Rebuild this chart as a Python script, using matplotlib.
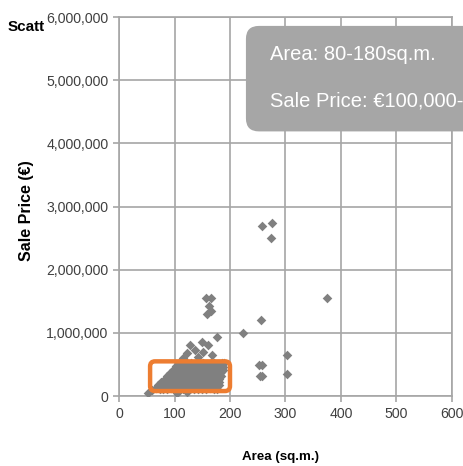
import matplotlib
matplotlib.use('Agg')
from matplotlib import pyplot as plt
from matplotlib.patches import FancyBboxPatch
from matplotlib.ticker import FuncFormatter

plt.rcParams['font.family'] = ['Liberation Sans', 'DejaVu Sans']

# main group of houses (area sq.m., price in thousands of euro)
area_main = [66, 73, 80, 87, 94, 101, 108, 115, 122, 129, 136, 143, 150, 157, 164, 171, 177,
             71, 78, 85, 92, 99, 106, 113, 120, 127, 134, 141, 148, 155, 162, 169, 176, 180,
             76, 83, 90, 97, 104, 111, 118, 125, 132, 139, 146, 153, 160, 167, 174, 181,
             82, 89, 96, 103, 110, 117, 124, 131, 138, 145, 152, 159, 166, 173, 180,
             87, 94, 101, 108, 115, 122, 129, 136, 143, 150, 157, 164, 171, 178, 184,
             92, 99, 106, 113, 120, 127, 134, 141, 148, 155, 162, 169, 176, 183,
             98, 105, 112, 119, 126, 133, 140, 147, 154, 161, 168, 175, 182, 187,
             103, 110, 117, 124, 131, 138, 145, 152, 159, 166, 173, 180, 188,
             109, 116, 123, 130, 137, 144, 151, 158, 165, 172, 179, 186, 190]
price_main = [125, 115, 120, 110, 125, 115, 110, 120, 115, 125, 110, 120, 115, 110, 125, 115, 120,
              170, 175, 165, 170, 180, 165, 175, 170, 165, 180, 170, 175, 165, 170, 180, 175, 170,
              220, 215, 225, 220, 210, 225, 220, 215, 230, 220, 215, 225, 220, 210, 225, 220,
              270, 275, 265, 270, 280, 265, 270, 275, 265, 270, 280, 270, 265, 275, 270,
              320, 315, 325, 320, 310, 325, 320, 315, 330, 320, 315, 325, 320, 310, 320,
              370, 375, 365, 370, 380, 365, 370, 375, 365, 370, 380, 370, 365, 375,
              420, 415, 425, 420, 410, 425, 420, 415, 430, 420, 415, 425, 420, 410,
              470, 475, 465, 470, 480, 465, 470, 475, 465, 470, 480, 470, 460,
              520, 515, 525, 520, 510, 525, 520, 515, 530, 520, 515, 525, 520]

# the rest of the points
area_other = [122, 128, 137, 149, 161, 176, 167, 152, 115, 143,
              157, 165, 162, 159, 165, 224, 256, 374, 257, 275, 274,
              253, 257, 254, 258, 302, 302, 52, 104, 123, 60]
price_other = [680, 810, 730, 860, 810, 940, 650, 700, 600, 620,
               1550, 1550, 1420, 1300, 1350, 1000, 1200, 1560, 2690, 2740, 2500,
               500, 500, 320, 320, 650, 350, 50, 50, 60, 90]

areas = area_main + area_other
prices = [p * 1000 for p in price_main + price_other]

fig = plt.figure(figsize=(4.64, 4.66), dpi=100)
ax = fig.add_axes([0.2565, 0.150, 0.7175, 0.8135])

grey = '#a6a6a6'
ax.scatter(areas, prices, marker='D', s=24, color='#808080', linewidths=0, zorder=3)

ax.set_xlim(0, 600)
ax.set_ylim(0, 6000000)
ax.set_xticks(range(0, 601, 100))
ax.set_yticks(range(0, 6000001, 1000000))
ax.yaxis.set_major_formatter(FuncFormatter(lambda v, p: '{:,.0f}'.format(v)))
ax.grid(True, color=grey, linewidth=1.2)
ax.set_axisbelow(True)
for s in ax.spines.values():
    s.set_color(grey)
    s.set_linewidth(1.2)
ax.tick_params(colors=grey, length=4, width=1.2, labelcolor='#404040', labelsize=10.2)

ax.set_xlabel('Area (sq.m.)', fontsize=9.6, fontweight='bold')
ax.xaxis.set_label_coords(0.486, -0.145)
ax.set_ylabel('Sale Price (€)', fontsize=11.5, fontweight='bold')
ax.yaxis.set_label_coords(-0.255, 0.49)
fig.text(0.017, 0.934, 'Scatt', fontsize=11, fontweight='bold')

# orange highlight of the main group
hl = FancyBboxPatch((56, 80000), 144, 470000, boxstyle='round,pad=0,rounding_size=9',
                    mutation_aspect=8782, fill=False, edgecolor='#ed7d31', linewidth=3.2,
                    zorder=4, clip_on=False)
ax.add_patch(hl)

# callout box
box = FancyBboxPatch((0.530, 0.718), 0.6, 0.2264, boxstyle='round,pad=0,rounding_size=0.028',
                     transform=fig.transFigure, facecolor='#a6a6a6', edgecolor='none', zorder=5)
fig.patches.append(box)
fig.text(0.582, 0.871, 'Area: 80-180sq.m.', color='white', fontsize=14.5, va='baseline', zorder=6)
fig.text(0.582, 0.7725, 'Sale Price: €100,000-€500,000', color='white', fontsize=14.5,
         va='baseline', zorder=6)

plt.savefig('out.png', dpi=100)
